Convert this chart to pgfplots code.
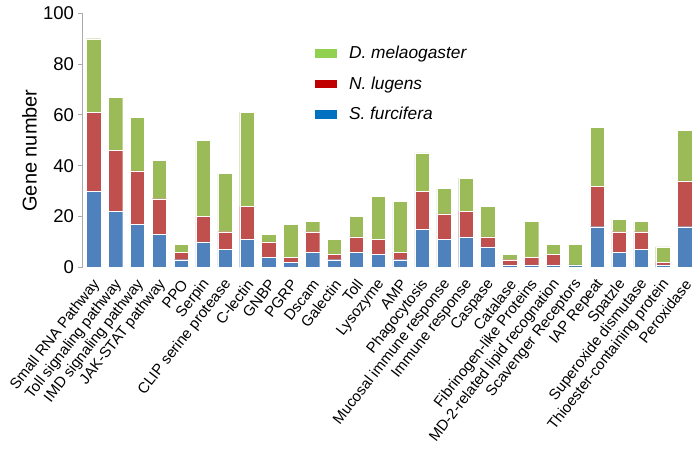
\documentclass[border=0pt]{standalone}
\usepackage{fontspec}
\setmainfont{Liberation Sans}
\usepackage{pgfplots}
\pgfplotsset{compat=1.18}
\definecolor{barblue}{RGB}{79,129,189}
\definecolor{barred}{RGB}{192,80,77}
\definecolor{bargreen}{RGB}{155,187,89}
\definecolor{legblue}{RGB}{0,112,192}
\definecolor{legred}{RGB}{192,0,0}
\definecolor{leggreen}{RGB}{146,208,80}
\definecolor{axgray}{RGB}{170,170,170}

\begin{document}
\begin{tikzpicture}
\useasboundingbox (0,0) rectangle (697pt,454pt);
\begin{axis}[
  at={(82.7pt,186.7pt)}, anchor=south west,
  scale only axis, width=613pt, height=254pt,
  ybar stacked, bar width=14.3pt,
  xmin=-0.5, xmax=27.5, ymin=0, ymax=100,
  ytick={0,20,40,60,80,100},
  xtick={0,...,27},
  xticklabels={Small RNA Pathway, Toll signaling pathway, IMD signaling pathway, JAK-STAT pathway, PPO, Serpin, CLIP serine protease, C-lectin, GNBP, PGRP, Dscam, Galectin, Toll, Lysozyme, AMP, Phagocytosis, Mucosal immune response, Immune response, Caspase, Catalase, Fibrinogen-like Proteins, MD-2-related lipid recognation, Scavenger Receptors, IAP Repeat, Spatzle, Superoxide dismutase, Thioester-containing protein, Peroxidase},
  axis lines*=left,
  axis line style={axgray, line width=0.8pt},
  x axis line style={draw=none},
  x tick style={draw=none},
  y tick style={axgray, line width=0.8pt},
  tick align=outside, major tick length=4.5pt,
  /pgf/number format/assume math mode=true,
  yticklabel style={font=\fontsize{18.5}{20}\selectfont, inner sep=1pt, xshift=-3pt},
  xticklabel style={font=\fontsize{15}{16}\selectfont, xshift=4pt, yshift=-9pt, rotate=52, anchor=east, inner sep=1pt},
  ylabel={Gene number},
  every axis y label/.style={at={(axis description cs:-0.087,0.46)}, rotate=90, anchor=center,
    font=\fontsize{20}{22}\selectfont},
  legend style={at={(axis description cs:0.378,0.88)}, anchor=north west, draw=none, fill=none,
    font=\fontsize{17.3}{19}\selectfont, row sep=12.5pt, inner sep=0pt,
    nodes={inner sep=2pt}, /tikz/every odd column/.append style={column sep=11pt}},
  legend cell align=left,
]
\addplot[fill=barblue, draw=white, line width=0.3pt, forget plot] coordinates {
  (0,30) (1,22) (2,17) (3,13) (4,3) (5,10) (6,7) (7,11) (8,4) (9,2)
  (10,6) (11,3) (12,6) (13,5) (14,3) (15,15) (16,11) (17,12) (18,8) (19,1)
  (20,1) (21,1) (22,1) (23,16) (24,6) (25,7) (26,1) (27,16)
};
\addplot[fill=barred, draw=white, line width=0.3pt, forget plot] coordinates {
  (0,31) (1,24) (2,21) (3,14) (4,3) (5,10) (6,7) (7,13) (8,6) (9,2)
  (10,8) (11,2) (12,6) (13,6) (14,3) (15,15) (16,10) (17,10) (18,4) (19,2)
  (20,3) (21,4) (22,0) (23,16) (24,8) (25,7) (26,1) (27,18)
};
\addplot[fill=bargreen, draw=white, line width=0.3pt, forget plot] coordinates {
  (0,29) (1,21) (2,21) (3,15) (4,3) (5,30) (6,23) (7,37) (8,3) (9,13)
  (10,4) (11,6) (12,8) (13,17) (14,20) (15,15) (16,10) (17,13) (18,12) (19,2)
  (20,14) (21,4) (22,8) (23,23) (24,5) (25,4) (26,6) (27,20)
};
\addlegendimage{legend image code/.code={\fill[leggreen] (0pt,-3.8pt) rectangle (21pt,3.8pt);}}
\addlegendentry{\textit{D. melaogaster}}
\addlegendimage{legend image code/.code={\fill[legred] (0pt,-3.8pt) rectangle (21pt,3.8pt);}}
\addlegendentry{\textit{N. lugens}}
\addlegendimage{legend image code/.code={\fill[legblue] (0pt,-3.8pt) rectangle (21pt,3.8pt);}}
\addlegendentry{\textit{S. furcifera}}
\end{axis}
\end{tikzpicture}
\end{document}
